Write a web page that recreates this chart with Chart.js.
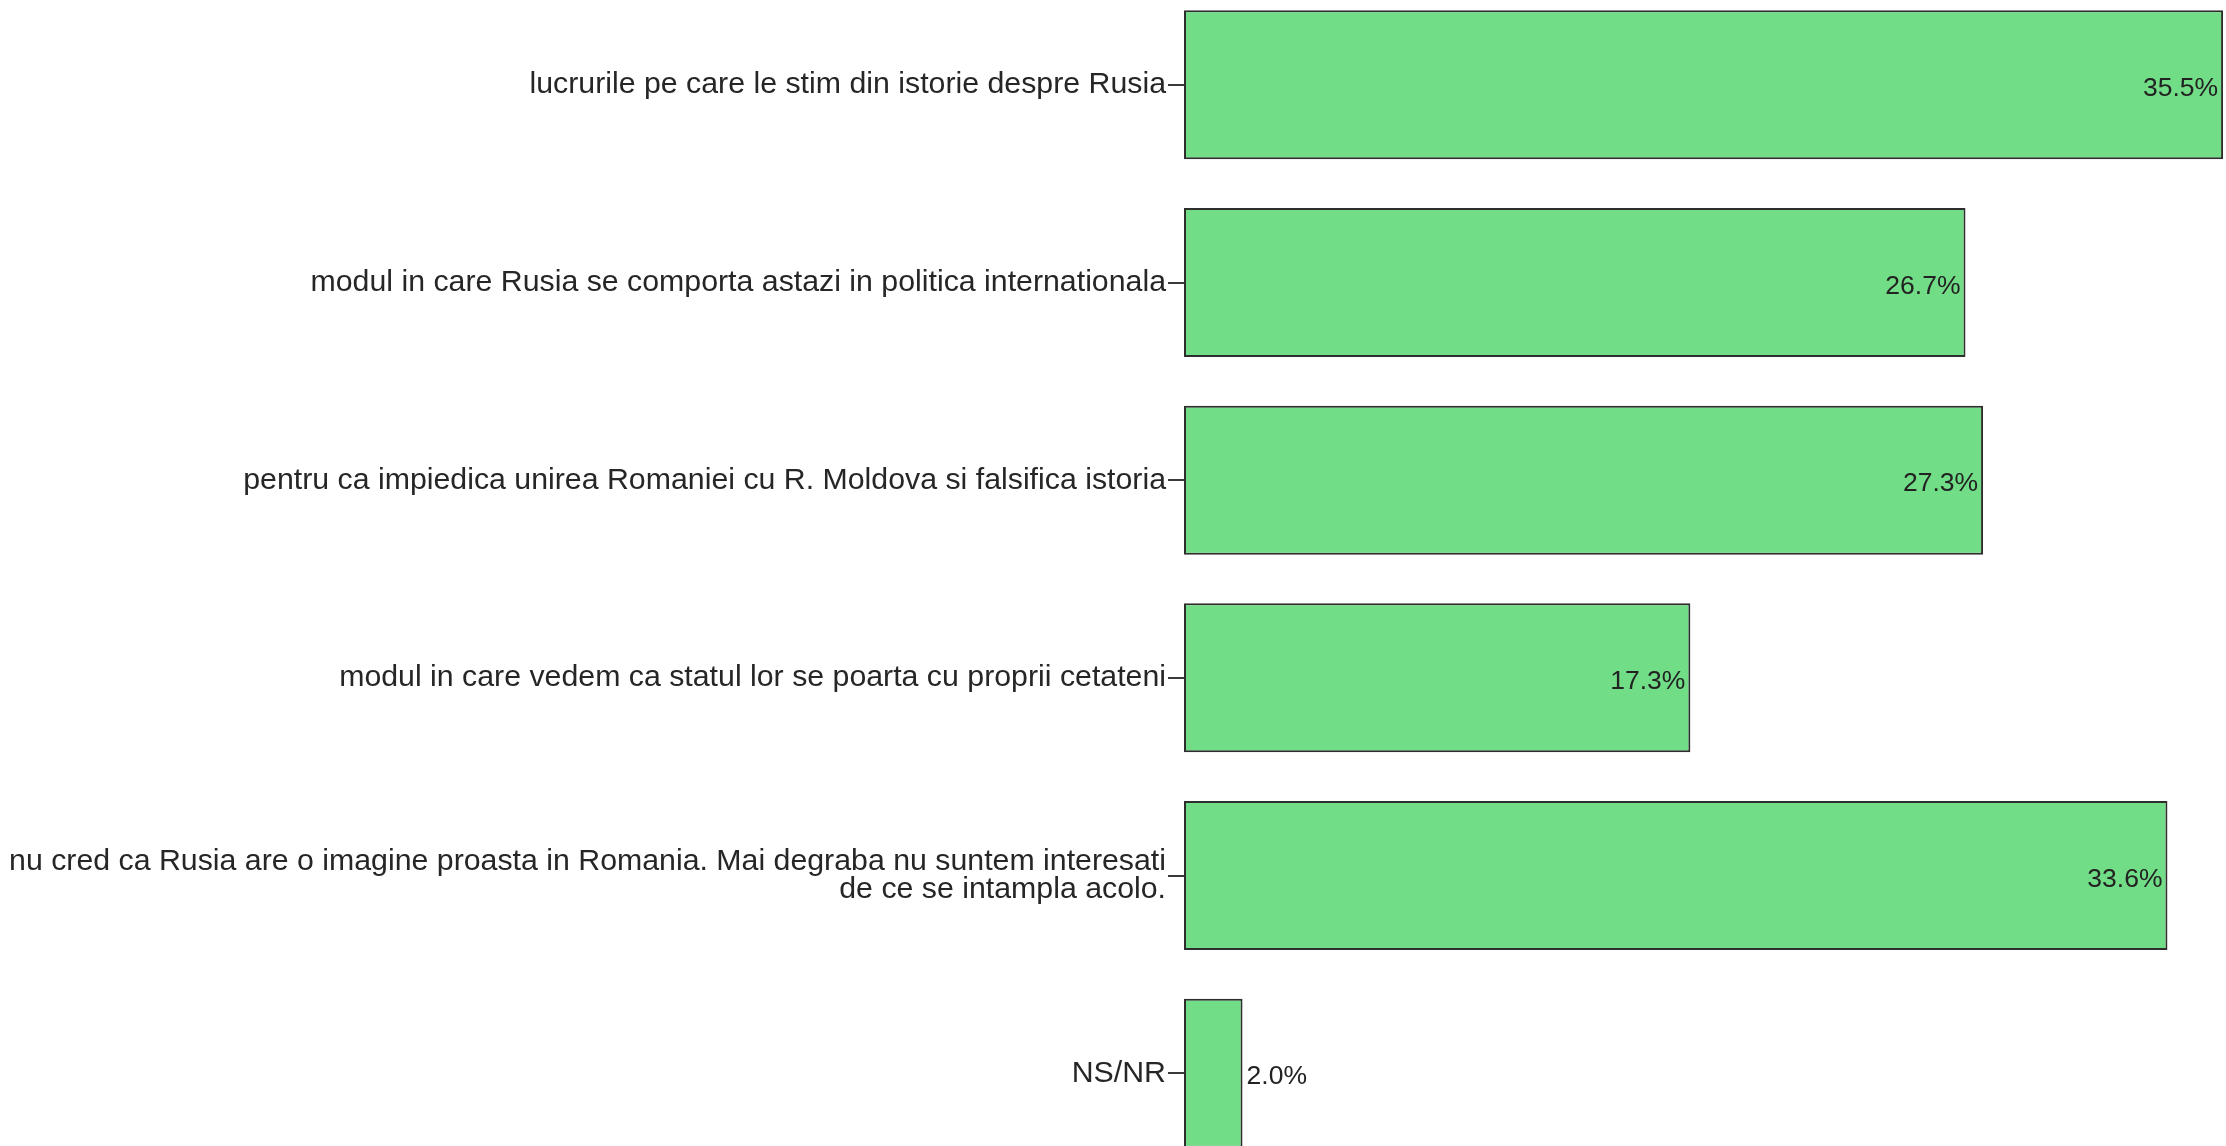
<!DOCTYPE html>
<html lang="ro">
<head>
<meta charset="UTF-8">
<title>Imaginea Rusiei in Romania</title>
<script src="https://cdn.jsdelivr.net/npm/chart.js"></script>
<style>
    html, body { margin: 0; padding: 0; background: #fff; overflow: hidden; }
    /* chart area is taller than the window: last bar is cut off like in the original */
    #wrap { position: absolute; left: 0; top: -14px; width: 2226px; height: 1186px; }
</style>
</head>
<body>
<div id="wrap"><canvas id="chart" width="2226" height="1186"></canvas></div>
<script>
    const categories = [
        'lucrurile pe care le stim din istorie despre Rusia',
        'modul in care Rusia se comporta astazi in politica internationala',
        'pentru ca impiedica unirea Romaniei cu R. Moldova si falsifica istoria',
        'modul in care vedem ca statul lor se poarta cu proprii cetateni',
        ['nu cred ca Rusia are o imagine proasta in Romania. Mai degraba nu suntem interesati', 'de ce se intampla acolo.'],
        'NS/NR'
    ];
    const percents = [35.5, 26.7, 27.3, 17.3, 33.6, 2.0];

    const fontFamily = '"Liberation Sans", Arial, sans-serif';

    // percentage text at the end of each bar (inside if it fits, outside otherwise)
    const valueLabels = {
        id: 'valueLabels',
        afterDatasetsDraw(chart) {
            const ctx = chart.ctx;
            const meta = chart.getDatasetMeta(0);
            ctx.save();
            ctx.font = '26.5px ' + fontFamily;
            ctx.fillStyle = '#222';
            ctx.textBaseline = 'middle';
            meta.data.forEach((bar, i) => {
                const text = percents[i].toFixed(1) + '%';
                const w = ctx.measureText(text).width;
                if (bar.x - bar.base > w + 12) {
                    ctx.textAlign = 'right';
                    ctx.fillText(text, bar.x - 5, bar.y + 4);
                } else {
                    ctx.textAlign = 'left';
                    ctx.fillText(text, bar.x + 4, bar.y + 4);
                }
            });
            ctx.restore();
        }
    };

    new Chart(document.getElementById('chart'), {
        type: 'bar',
        data: {
            labels: categories,
            datasets: [{
                data: percents,
                backgroundColor: '#71dd86',
                borderColor: '#2e2e2e',
                borderWidth: 2,
                borderSkipped: false,
                categoryPercentage: 1,
                barPercentage: 0.754
            }]
        },
        options: {
            indexAxis: 'y',
            responsive: false,
            animation: false,
            layout: { padding: 0 },
            plugins: {
                legend: { display: false },
                tooltip: { enabled: false }
            },
            scales: {
                x: { display: false, min: 0, max: 35.6 },
                y: {
                    afterFit: scale => {
                        scale.width = 1184;
                        // no extra room for half-labels above/below, bands fill the canvas
                        scale.paddingTop = 0;
                        scale.paddingBottom = 0;
                    },
                    border: { display: false },
                    grid: {
                        offset: false,
                        drawOnChartArea: false,
                        drawTicks: true,
                        tickLength: 16,
                        color: '#3a3a3a',
                        lineWidth: 2
                    },
                    ticks: {
                        autoSkip: false,
                        color: '#262626',
                        padding: 2,
                        font: { family: fontFamily, size: 30.3, lineHeight: 0.93 }
                    }
                }
            }
        },
        plugins: [valueLabels]
    });
</script>
</body>
</html>
